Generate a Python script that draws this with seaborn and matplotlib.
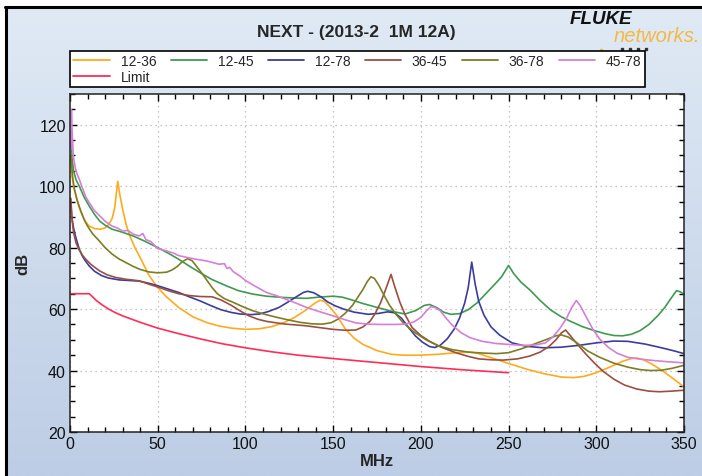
import numpy as np
import pandas as pd
import matplotlib
matplotlib.use('Agg')
import matplotlib.pyplot as plt
from matplotlib.lines import Line2D
from matplotlib.ticker import MultipleLocator
import seaborn as sns

# values (MHz, dB)
x_12_36 = [0.5, 1, 2, 3.4, 5, 7, 9, 11, 14, 17, 20, 22, 24, 25.5, 27.2, 28.5, 30, 32, 34, 37, 40, 45, 50, 55,
           62, 70, 78, 85, 92, 100, 108, 115, 122, 128, 134, 139, 142.5, 145, 148, 152, 157, 162, 167, 175,
           183, 190, 200, 210, 220, 228, 233, 240, 250, 260, 270, 280, 287, 293, 300, 308, 315, 320, 323,
           327, 332, 338, 344, 349.5]
y_12_36 = [110, 104, 100, 97, 93.5, 90.5, 88.3, 87, 86.2, 86, 86.4, 87.5, 89.5, 93, 101.6, 97, 92.5, 87.5, 84,
           80, 76.8, 71, 67, 64, 60.5, 57.5, 55.6, 54.5, 53.8, 53.4, 53.6, 54.3, 55.6, 57.3, 59.5, 61.7,
           62.9, 62.5, 60.8, 58, 53.5, 50.5, 48.5, 46.5, 45.3, 45, 45, 45.3, 45.8, 46, 45.5, 44.2, 42.3,
           40.5, 39, 37.9, 37.7, 38.1, 39.3, 41.2, 43, 43.9, 44.1, 43.5, 42, 39.8, 37.3, 34.9]

x_12_45 = [0.5, 1, 2, 3.5, 5.3, 8, 11, 14, 17, 20, 24, 30, 36, 43, 50, 56, 62, 68, 74, 81, 89, 96, 104, 112,
           121, 128, 135, 142, 150, 155, 160, 167, 176, 184, 191, 197, 202, 205, 209, 213, 217, 222, 227,
           232, 237, 242, 246, 250, 253, 257, 262, 268, 274, 280, 285, 292, 300, 305, 310, 315, 320, 325,
           330, 335, 339, 342, 345.7, 348, 350]
y_12_45 = [118, 110, 105, 102, 100, 96.5, 93.5, 90.8, 88.6, 87.3, 86, 85, 83.8, 82, 80, 78.2, 76.2, 74, 71.9,
           69.6, 67.6, 66, 64.9, 64.2, 63.8, 63.6, 63.5, 63.9, 64.2, 63.9, 63.1, 61.8, 60.4, 59.2, 58.4,
           59.5, 61.2, 61.5, 60.5, 59, 58.3, 58.5, 59.8, 62, 65, 68, 70.5, 74.2, 71.5, 68.8, 66.3, 62.8,
           59.7, 57.5, 56.1, 54.3, 52.8, 52, 51.4, 51.3, 51.8, 53, 55, 57.8, 60.5, 63, 66, 65.6, 64.8]

x_12_78 = [0.5, 1, 2, 3, 4, 5.3, 7, 9, 11, 14, 18, 22, 28, 34, 39.5, 45, 50, 56, 62, 68, 74, 80, 86, 92, 97,
           103, 108, 113, 119, 124, 129, 133, 135.5, 139, 143, 147, 151, 156, 162, 170, 176, 181, 185, 189,
           193, 197, 201, 205, 208, 211, 215, 219, 222, 225, 227, 229, 231, 233, 236, 240, 245, 252, 260,
           270, 280, 290, 300, 310, 318, 328, 338, 345, 350]
y_12_78 = [95, 90, 86.5, 84, 82, 79.5, 77.3, 75.5, 74, 72.3, 70.9, 70.1, 69.5, 69.3, 69.1, 68.4, 67.6, 66.5,
           65.4, 64, 62.7, 61.2, 59.8, 58.9, 58.4, 58.2, 58.4, 59.2, 60.5, 62.2, 64, 65.4, 65.8, 65.3, 64,
           62.3, 61.1, 60, 59, 58.3, 58.6, 59.1, 58.8, 57, 54, 51.2, 49.2, 47.8, 47.5, 48.2, 50.3, 53.5, 57,
           62, 67, 75.3, 68, 62.5, 58, 54.2, 51.5, 49, 47.9, 47.4, 47.6, 48.2, 49, 49.6, 49.5, 48.6, 47.3,
           46.3, 45.5]

x_36_45 = [0.5, 1, 2, 3.4, 5, 7, 9, 12, 16.7, 21, 26, 32, 39.5, 45, 51, 57, 62, 68, 74, 81, 86, 92, 97, 102,
           107, 112, 118, 123, 134, 142, 150, 157, 163, 167, 171, 174, 177, 180, 183, 185, 188, 191, 195,
           200, 205, 212, 220, 227, 233, 240, 247, 255, 262, 268, 273, 277, 280, 282.5, 285, 289, 294, 299,
           304, 310, 316, 323, 330, 336, 343, 350]
y_36_45 = [96, 90, 85, 81.6, 79.5, 77.6, 76.2, 74.5, 72.5, 71.2, 70.3, 69.7, 69.2, 68.1, 67, 65.8, 65, 64.4,
           64.1, 64, 63, 61.2, 59.4, 57.8, 56.7, 56, 55.5, 55.1, 54.6, 54, 53.4, 53.1, 53.2, 54.2, 56, 58.6,
           62, 66.5, 71.3, 67.5, 62.3, 58.2, 54, 51.4, 49.5, 47.5, 45.8, 44.6, 43.8, 43.5, 43.4, 43.8, 44.7,
           46, 47.8, 50, 52.2, 53.2, 51.5, 48.7, 45.4, 42.4, 39.7, 37.2, 35.3, 34, 33.3, 33.1, 33.3, 33.6]

x_36_78 = [0.5, 1.5, 2.5, 4, 6, 8, 10, 13, 16.7, 20, 24, 28, 32, 36, 40, 45, 50, 55, 58, 61, 64, 67, 69.5, 72,
           75, 78, 81, 84, 88, 93, 98, 104, 111, 118, 125, 131, 138, 144, 149, 153, 157, 161, 164, 167,
           169.5, 171.5, 173.5, 176, 179, 182, 186, 190, 196, 203, 210, 218, 227, 235, 243, 250, 258, 265,
           272, 277, 280, 284, 289, 295, 302, 310, 318, 325, 331, 337, 343, 350]
y_36_78 = [110, 103, 99, 95.5, 92.2, 89.2, 87, 84.4, 82.2, 80, 77.9, 76.3, 75.1, 73.9, 72.9, 72.1, 71.8, 72,
           72.7, 73.8, 75.4, 76.4, 75.8, 74, 71.8, 69.4, 67, 65, 63.4, 62.2, 60.9, 59.5, 58.3, 57.3, 56.4,
           55.7, 55.2, 55.1, 55.6, 56.8, 58.7, 61.2, 63.8, 66.4, 69, 70.5, 70, 67.8, 64.5, 61.4, 58.2, 55.5,
           52.6, 50, 48, 46.8, 46, 45.7, 45.5, 45.8, 47.2, 48.7, 50.2, 51.3, 51.6, 50.9, 49, 46.4, 44.3,
           42.4, 41.1, 40.3, 40, 40.1, 40.7, 41.7]

x_45_78 = [0.5, 0.8, 1.2, 1.9, 3, 4, 5.3, 7, 9, 11, 14, 17, 20, 24, 27, 30, 33, 36, 39.5, 41.5, 43.3, 46, 50,
           54, 58.6, 62, 66, 71, 77.6, 81, 85, 88, 89.5, 91, 93, 97, 100, 106, 112, 118, 123, 129, 135, 142,
           150, 157, 163, 170, 177, 185, 191, 196, 200, 203, 205.7, 208, 211, 214, 218, 223, 228, 235, 243,
           250, 258, 265, 271, 275, 279, 283, 286, 288.6, 291, 294, 298, 302, 307, 312, 318, 325, 332, 340,
           350]
y_45_78 = [112, 124.9, 118, 109.7, 106, 104, 102.2, 99.5, 96.5, 94.6, 92, 90.3, 88.6, 87, 86.4, 85.4, 85.6,
           84.4, 83.8, 84.6, 82.6, 82, 79.7, 79.1, 78.3, 77.4, 76.9, 76.3, 75.7, 75.2, 74.6, 74.8, 73.2,
           73.6, 72.2, 70.7, 69.3, 67.3, 65.4, 64.3, 63.2, 61.9, 60.5, 59.2, 57.8, 56.5, 55.5, 55.1, 55,
           55, 55.1, 55.8, 57.3, 59.3, 60.8, 60.5, 59.5, 57.3, 54.7, 52.3, 50.7, 49.5, 48.8, 48.5, 48.2,
           48.3, 49, 50.8, 53.5, 57, 60.5, 62.8, 61, 57.7, 53.5, 50.2, 47.5, 45.6, 44.3, 43.7, 43.3, 42.9,
           42.5]

x_limit = [0.5, 11, 12.5, 15, 18, 22, 26, 30, 40, 50, 62, 75, 87, 100, 115, 130, 150, 175, 200, 225, 250]
y_limit = [65, 65, 64.2, 62.8, 61.5, 60, 58.8, 57.8, 55.7, 53.8, 52, 50.2, 48.7, 47.4, 46.1, 45, 43.9, 42.6,
           41.3, 40.2, 39.3]

pairs = ['12-36', '12-45', '12-78', '36-45', '36-78', '45-78', 'Limit']
colors = ['#ffaa1d', '#3f9a4f', '#3c3ca0', '#9a5040', '#7d7d24', '#d67fd6', '#ff2d55']

series = {
    '12-36': (x_12_36, y_12_36), '12-45': (x_12_45, y_12_45), '12-78': (x_12_78, y_12_78),
    '36-45': (x_36_45, y_36_45), '36-78': (x_36_78, y_36_78), '45-78': (x_45_78, y_45_78),
    'Limit': (x_limit, y_limit),
}
df = pd.concat([pd.DataFrame({'MHz': xs, 'dB': ys, 'pair': k}) for k, (xs, ys) in series.items()])

sns.set_theme(style='ticks')
plt.rcParams['font.family'] = ['Liberation Sans', 'DejaVu Sans']

fig = plt.figure(figsize=(7.02, 4.77), dpi=100)
fig.patch.set_facecolor('white')
fig.patch.set_linewidth(0)

# light blue gradient panel with the black edge on top and left
bg = fig.add_axes([6 / 702, 0, 1 - 6 / 702, 1 - 9 / 477], zorder=-10)
grad = np.linspace(0, 1, 256).reshape(-1, 1)
cmap = matplotlib.colors.LinearSegmentedColormap.from_list('bg', ['#e0eaf5', '#bdcde5'])
bg.imshow(grad, aspect='auto', cmap=cmap, extent=[0, 1, 0, 1])
bg.axis('off')
fig.add_artist(Line2D([5.5 / 702, 5.5 / 702], [0, 1 - 8 / 477], color='black', lw=2.2))
fig.add_artist(Line2D([4.5 / 702, 1], [1 - 8 / 477, 1 - 8 / 477], color='black', lw=2.2))

ax = fig.add_axes([70 / 702, 44 / 477, 614 / 702, 338 / 477])
ax.set_facecolor('white')

palette = dict(zip(pairs, colors))
sns.lineplot(data=df[df.pair == 'Limit'], x='MHz', y='dB', color=palette['Limit'], lw=1.2,
             estimator=None, sort=False, ax=ax)
sns.lineplot(data=df[df.pair != 'Limit'], x='MHz', y='dB', hue='pair', palette=palette, lw=1.2,
             estimator=None, sort=False, legend=False, ax=ax)

ax.set_xlim(0, 350)
ax.set_ylim(20, 130)
ax.xaxis.set_major_locator(MultipleLocator(50))
ax.xaxis.set_minor_locator(MultipleLocator(10))
ax.yaxis.set_major_locator(MultipleLocator(20))
ax.yaxis.set_minor_locator(MultipleLocator(5))
ax.set_yticks(range(20, 121, 20))
ax.tick_params(which='both', direction='in', top=True, right=True, color='black', labelsize=11.5,
               labelcolor='#111111', pad=3)
ax.tick_params(which='major', length=5, width=1)
ax.tick_params(which='minor', length=3.5, width=1)
ax.grid(True, which='major', color='#b4b4b4', linestyle=(0, (1, 3)), lw=0.9)
for s in ax.spines.values():
    s.set_color('#222222')
    s.set_linewidth(1.1)
ax.set_xlabel('MHz', fontsize=12, fontweight='bold', labelpad=1)
ax.set_ylabel('dB', fontsize=12, fontweight='bold', labelpad=6)

fig.text(356 / 702, 1 - 33 / 477, 'NEXT - (2013-2  1M 12A)', ha='center', va='center',
         fontsize=12.5, fontweight='bold')

# logo
fig.text(601 / 702, 1 - 19 / 477, 'FLUKE', ha='center', va='center', fontsize=13.5,
         fontweight='bold', fontstyle='italic', color='#111111')
fig.text(657 / 702, 1 - 36 / 477, 'networks.', ha='center', va='center', fontsize=14.5,
         fontstyle='italic', color='#f4b942')
fig.add_artist(Line2D([622 / 702, 630 / 702, 638 / 702, 646 / 702], [1 - 50 / 477] * 4, ls='none',
                      marker='s', ms=1.6, color='#333333'))
fig.add_artist(Line2D([601 / 702], [1 - 51 / 477], ls='none', marker='s', ms=1.6, color='#f4b942'))

order = ['12-36', 'Limit', '12-45', '12-78', '36-45', '36-78', '45-78']
handles = [Line2D([], [], color=palette[p], lw=1.3) for p in order]
leg = fig.legend(handles, order, loc='lower left', bbox_to_anchor=(70 / 702, 1 - 88 / 477, 575 / 702, 38 / 477),
                 mode='expand', ncol=6, frameon=True, fancybox=False, edgecolor='black', facecolor='white',
                 framealpha=1, fontsize=10, handlelength=2.6, handletextpad=0.8, labelspacing=0.1,
                 borderpad=0.25, borderaxespad=0)
leg.get_frame().set_linewidth(1.2)

fig.savefig('out.png', dpi=100)
